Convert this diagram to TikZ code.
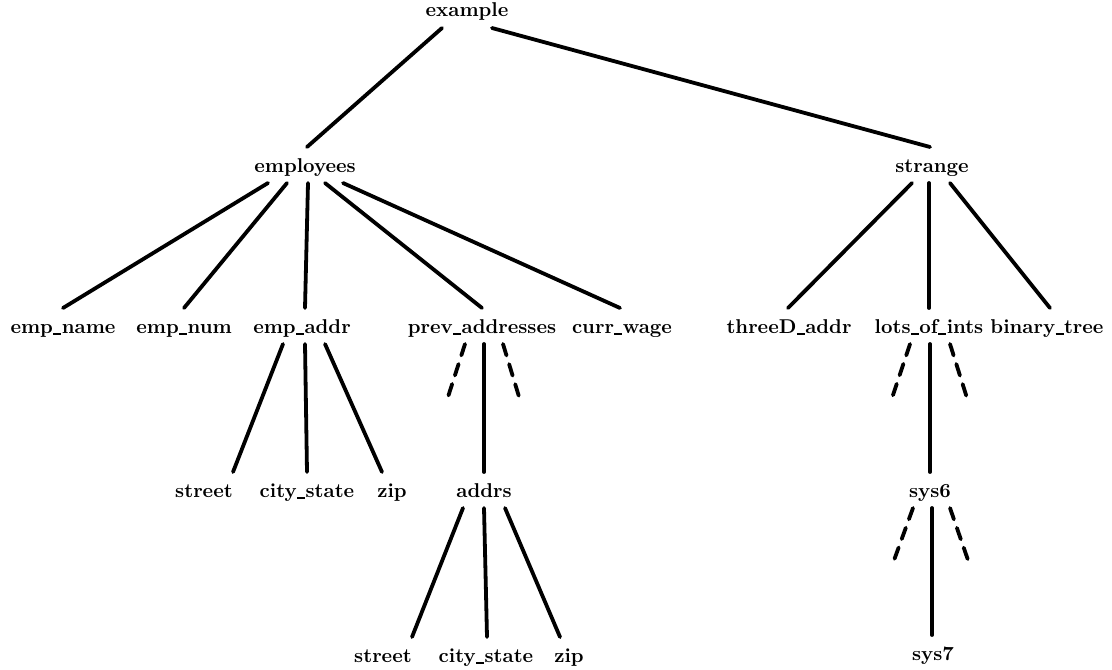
\documentclass[tikz,border=0pt]{standalone}
\usetikzlibrary{calc}
\tikzset{
  lbl/.style={inner sep=0pt, anchor=base, font=\bfseries},
  tline/.style={line width=1.9pt, line cap=round},
  dline/.style={tline, dash pattern=on 6pt off 4.5pt}
}
\newcommand\us{\kern0.02em\rule[-0.9pt]{0.4em}{0.9pt}\kern0.02em}
\newcommand\tedge[5][tline]{\draw[#1] ($(#2.base)+(#3,11)$) -- ($(#4.base)+(#5,-25)$);}
\newcommand\fedge[4][dline]{\draw[#1] ($(#2.base)+(#3,11)$) -- (#4);}
\begin{document}
\begin{tikzpicture}[x=0.5pt, y=-0.5pt]
\useasboundingbox (0,0) rectangle (1112,669);
% nodes
\node[lbl] (ex) at (467,17) {example};
\node[lbl] (emp) at (305,172) {employees};
\node[lbl] (str) at (932,172) {strange};
\node[lbl] (ename) at (63,333) {emp\us name};
\node[lbl] (enum) at (184,333) {emp\us num};
\node[lbl] (eaddr) at (302,333) {emp\us addr};
\node[lbl] (prev) at (482,333) {prev\us addresses};
\node[lbl] (wage) at (622,333) {curr\us wage};
\node[lbl] (three) at (789,333) {threeD\us addr};
\node[lbl] (lots) at (929,333) {lots\us of\us ints};
\node[lbl] (bin) at (1047,333) {binary\us tree};
\node[lbl] (st1) at (204,497) {street};
\node[lbl] (cs1) at (307,497) {city\us state};
\node[lbl] (zip1) at (392,497) {zip};
\node[lbl] (addrs) at (484,497) {addrs};
\node[lbl] (sys6) at (930,497) {sys6};
\node[lbl] (st2) at (383,662) {street};
\node[lbl] (cs2) at (486,662) {city\us state};
\node[lbl] (zip2) at (569,662) {zip};
\node[lbl] (sys7) at (933,660) {sys7};
% free ends of dashed lines
\coordinate (pl) at (447,400);
\coordinate (pr) at (520,400);
\coordinate (ll) at (892,398);
\coordinate (lr) at (967,398);
\coordinate (sl) at (893,563);
\coordinate (sr) at (969,563);
% edges
\tedge{ex}{-25}{emp}{2}
\tedge{ex}{25}{str}{-2}
\tedge{emp}{-37}{ename}{0}
\tedge{emp}{-18}{enum}{0}
\tedge{emp}{3}{eaddr}{3}
\tedge{emp}{20}{prev}{0}
\tedge{emp}{38}{wage}{-2}
\tedge{str}{-20}{three}{-1}
\tedge{str}{-3}{lots}{0}
\tedge{str}{18}{bin}{3}
\tedge{eaddr}{-19}{st1}{29}
\tedge{eaddr}{3}{cs1}{0}
\tedge{eaddr}{23}{zip1}{-10}
\fedge{prev}{-17}{pl}
\tedge{prev}{2}{addrs}{0}
\fedge{prev}{21}{pr}
\tedge{addrs}{-21}{st2}{29}
\tedge{addrs}{0}{cs2}{1}
\tedge{addrs}{21}{zip2}{-9}
\fedge{lots}{-19}{ll}
\tedge{lots}{1}{sys6}{0}
\fedge{lots}{21}{lr}
\fedge{sys6}{-17}{sl}
\tedge{sys6}{2}{sys7}{-1}
\fedge{sys6}{20}{sr}
\end{tikzpicture}
\end{document}
